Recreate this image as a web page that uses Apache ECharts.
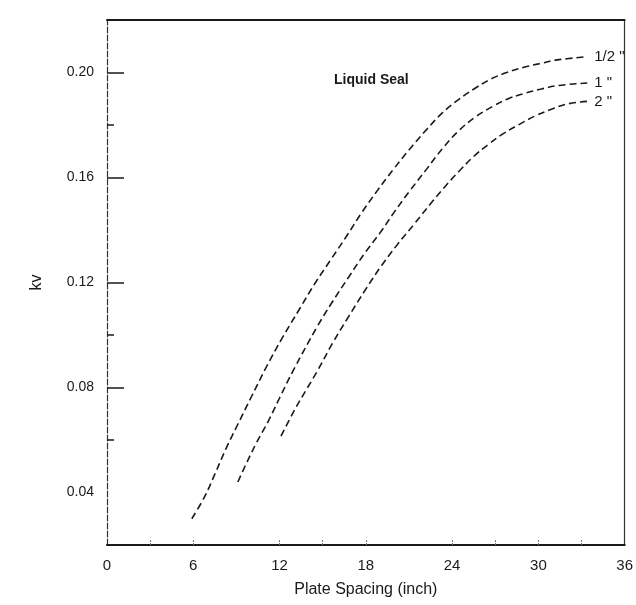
<!DOCTYPE html>
<html>
<head>
<meta charset="utf-8">
<script src="https://cdn.jsdelivr.net/npm/echarts@6/dist/echarts.min.js"></script>
<style>
html,body{margin:0;padding:0;background:#fff;}
#chart{width:636px;height:605px;}
</style>
</head>
<body>
<div id="chart"></div>
<script>
// ---- data ----
const seriesNames = ['1/2 "', '1 "', '2 "'];
const halfX = [5.9, 6.8, 7.5, 8.3, 9.1, 10.0, 11.1, 12.2, 13.4, 14.5, 15.6, 16.7, 17.7, 18.8, 19.9, 21.0, 22.1, 23.3, 24.4, 25.6, 26.7, 27.8, 29.0, 30.2, 31.3, 33.4];
const halfY = [0.030, 0.0385, 0.047, 0.057, 0.066, 0.076, 0.088, 0.099, 0.110, 0.120, 0.129, 0.138, 0.1465, 0.155, 0.163, 0.1705, 0.1775, 0.1845, 0.1895, 0.194, 0.1975, 0.200, 0.202, 0.2035, 0.2048, 0.206];
const oneX = [9.1, 9.6, 10.4, 11.2, 12.0, 13.0, 14.6, 15.6, 16.8, 17.9, 19.0, 20.0, 21.0, 22.2, 23.4, 24.4, 25.6, 26.8, 27.9, 29.0, 30.2, 31.3, 33.4];
const oneY = [0.044, 0.050, 0.059, 0.067, 0.076, 0.087, 0.103, 0.112, 0.122, 0.131, 0.139, 0.147, 0.1545, 0.163, 0.1715, 0.1775, 0.183, 0.187, 0.190, 0.192, 0.1937, 0.195, 0.196];
const twoX = [12.1, 13.1, 13.9, 14.6, 15.7, 16.8, 18.0, 19.1, 20.2, 21.4, 22.5, 23.5, 24.5, 25.5, 26.5, 27.5, 28.6, 29.8, 30.9, 32.0, 33.4];
const twoY = [0.0615, 0.072, 0.0795, 0.086, 0.097, 0.107, 0.1175, 0.1265, 0.1345, 0.1425, 0.150, 0.1565, 0.1625, 0.168, 0.1725, 0.1765, 0.180, 0.1835, 0.186, 0.188, 0.189];
const xTickLabels = [0, 6, 12, 18, 24, 30, 36];
const xMinorTicks = [3, 6, 12, 15, 18, 24, 27, 30, 33];
const yTickLabels = [0.04, 0.08, 0.12, 0.16, 0.20];
const yMajorTicks = [0.08, 0.12, 0.16, 0.20];
const yMinorTicks = [0.06, 0.10, 0.18];
const annotation = 'Liquid Seal';
const xTitle = 'Plate Spacing (inch)';
const yTitle = 'kv';

const zip = (xs, ys) => xs.map((x, i) => [x, ys[i]]);

const FONT = '"Liberation Sans", Arial, sans-serif';
const INK = '#1a1a1a';

const chart = echarts.init(document.getElementById('chart'), null, {renderer: 'canvas'});

function lineSeries(name, data) {
  return {
    name: name,
    type: 'line',
    xAxisIndex: 0, yAxisIndex: 0,
    data: data,
    smooth: 0.4,
    showSymbol: false,
    symbol: 'none',
    lineStyle: {color: INK, width: 1.6, type: [7, 4]},
    endLabel: {
      show: true,
      formatter: name,
      color: INK,
      fontFamily: FONT,
      fontSize: 15,
      distance: 7
    },
    animation: false
  };
}

chart.setOption({
  backgroundColor: '#ffffff',
  animation: false,
  grid: {left: 107, right: 8, top: 20, bottom: 60, containLabel: false},
  xAxis: [
    {
      type: 'value', position: 'bottom',
      min: 0, max: 36, interval: 3,
      name: xTitle, nameLocation: 'middle', nameGap: 37,
      nameTextStyle: {fontFamily: FONT, fontSize: 16, color: INK},
      axisLine: {show: true, lineStyle: {color: INK, width: 2.2}},
      axisTick: {show: true, inside: true, length: 6, customValues: xMinorTicks, lineStyle: {color: '#777', width: 1, type: [2, 1]}},
      axisLabel: {customValues: xTickLabels, fontFamily: FONT, fontSize: 15, color: INK, margin: 13},
      splitLine: {show: false}
    },
    {
      type: 'value', position: 'top',
      min: 0, max: 36, interval: 3,
      axisLine: {show: true, lineStyle: {color: INK, width: 2}},
      axisTick: {show: false}, axisLabel: {show: false}, splitLine: {show: false}
    }
  ],
  yAxis: [
    {
      type: 'value', position: 'left',
      min: 0.02, max: 0.22, interval: 0.02,
      name: yTitle, nameLocation: 'middle', nameGap: 62, nameRotate: 90,
      nameTextStyle: {fontFamily: FONT, fontSize: 16, color: INK},
      axisLine: {show: true, lineStyle: {color: '#333', width: 1.2, type: [6, 2]}},
      axisTick: {show: true, inside: true, length: 17, customValues: yMajorTicks, lineStyle: {color: INK, width: 1.5}},
      axisLabel: {customValues: yTickLabels, fontFamily: FONT, fontSize: 14, color: INK, margin: 13,
        formatter: v => v.toFixed(2)},
      splitLine: {show: false}
    },
    {
      type: 'value', position: 'left', offset: 0,
      min: 0.02, max: 0.22, interval: 0.02,
      axisLine: {show: false},
      axisTick: {show: true, inside: true, length: 7, customValues: yMinorTicks, lineStyle: {color: INK, width: 1.5}},
      axisLabel: {show: false}, splitLine: {show: false}
    },
    {
      type: 'value', position: 'right',
      min: 0.02, max: 0.22, interval: 0.02,
      axisLine: {show: true, lineStyle: {color: '#333', width: 1.2}},
      axisTick: {show: false}, axisLabel: {show: false}, splitLine: {show: false}
    }
  ],
  graphic: [
    {
      type: 'text', left: 334, top: 73,
      style: {text: annotation, font: 'bold 14px ' + FONT, fill: INK}
    }
  ],
  series: [
    lineSeries(seriesNames[0], zip(halfX, halfY)),
    lineSeries(seriesNames[1], zip(oneX, oneY)),
    lineSeries(seriesNames[2], zip(twoX, twoY))
  ]
});
</script>
</body>
</html>
